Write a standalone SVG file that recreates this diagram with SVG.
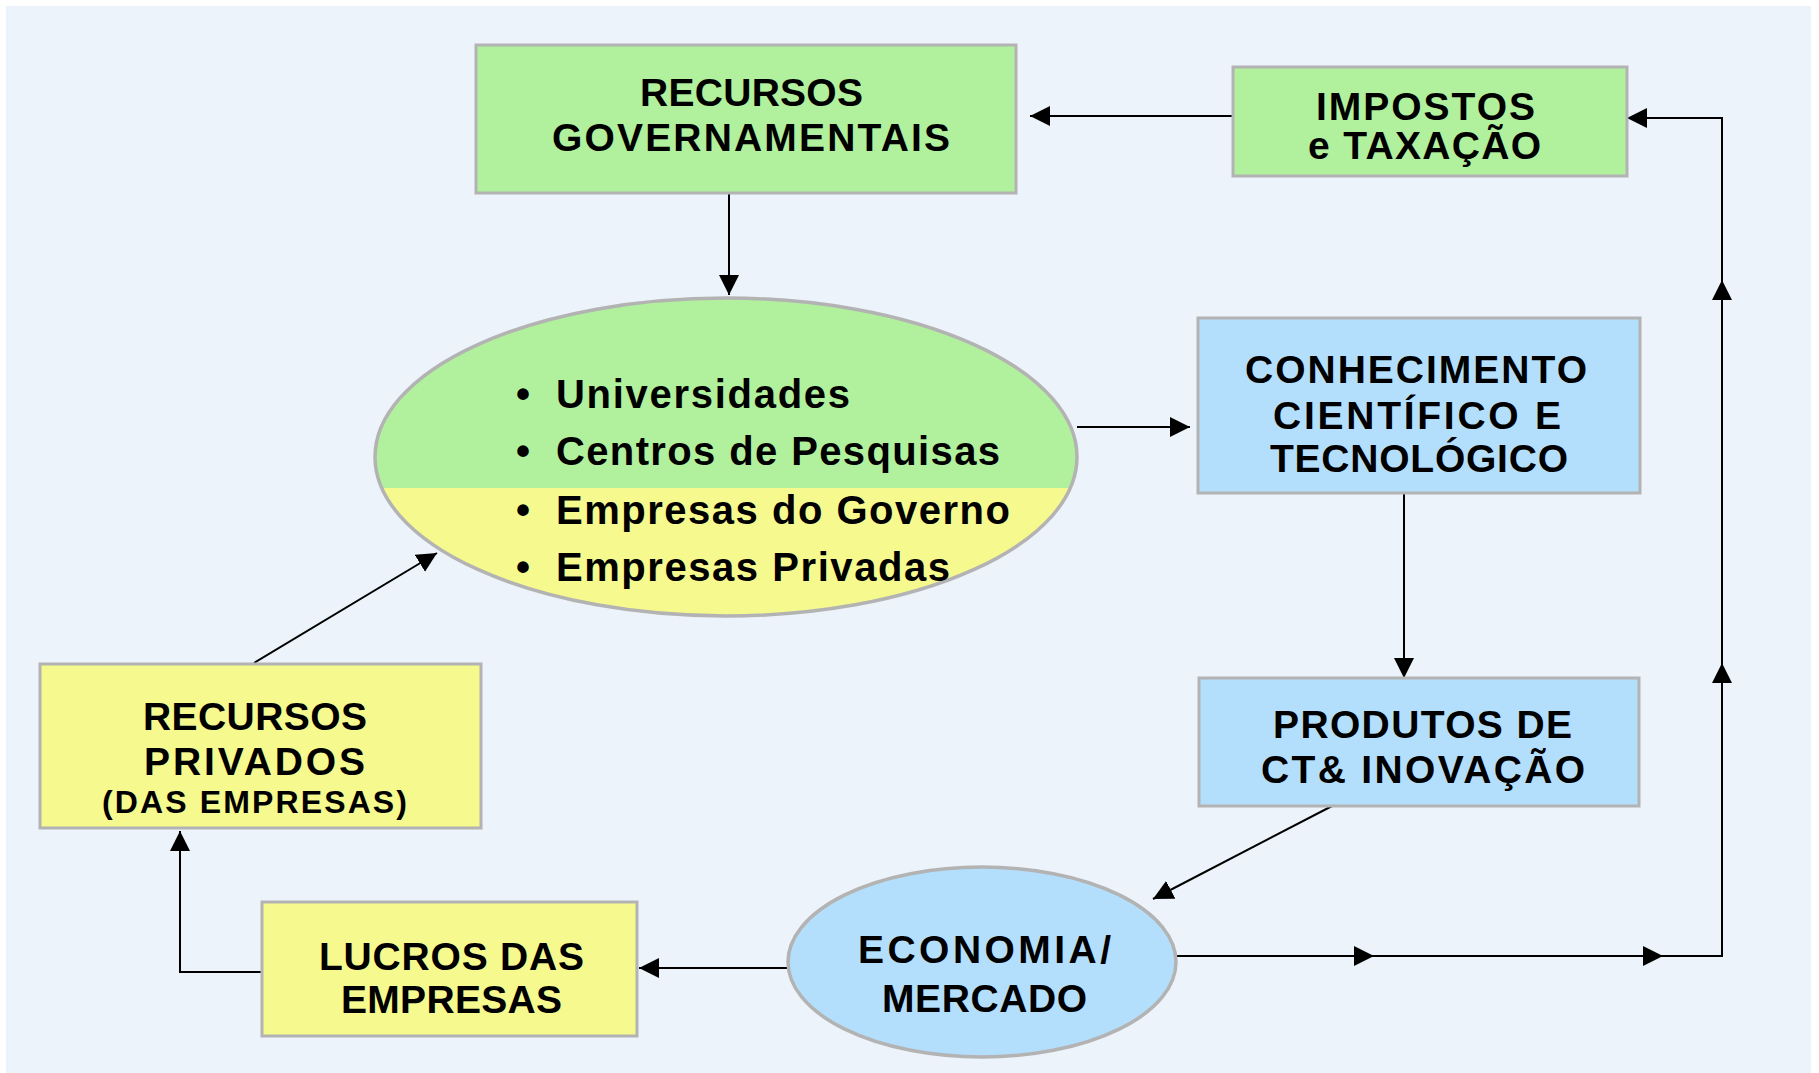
<svg xmlns="http://www.w3.org/2000/svg" width="1819" height="1073" viewBox="0 0 1819 1073">
<style>
.box{stroke:#B3B3B3;stroke-width:3}
.g{fill:#B1F09C}
.y{fill:#F5F98E}
.b{fill:#B4DFFC}
.t{font-family:"Liberation Sans",Arial,sans-serif;font-weight:bold;font-size:39px;fill:#000}
.s{font-size:32px}
.e{font-size:40px}
.c{stroke:#000;stroke-width:2;fill:none}
.a{marker-end:url(#ah)}
</style>
<defs>
<marker id="ah" markerUnits="userSpaceOnUse" markerWidth="20" markerHeight="20" refX="20" refY="10" orient="auto" viewBox="0 0 20 20">
<path d="M0,0 L20,10 L0,20 z" fill="#000"/>
</marker>
<clipPath id="low"><rect x="300" y="488" width="850" height="200"/></clipPath>
</defs>
<rect x="0" y="0" width="1819" height="1073" fill="#FFFFFF"/>
<rect x="6" y="6" width="1805" height="1067" fill="#ECF3FA"/>

<g id="connectors">
<line class="c a" x1="1233" y1="116" x2="1030" y2="116"/>
<line class="c a" x1="729" y1="193" x2="729" y2="295"/>
<line class="c a" x1="1077" y1="427" x2="1190" y2="427"/>
<line class="c a" x1="1404" y1="493" x2="1404" y2="678"/>
<line class="c a" x1="1334" y1="805" x2="1153" y2="899"/>
<line class="c a" x1="788" y1="968" x2="639" y2="968"/>
<path class="c a" d="M261,972 L180,972 L180,831"/>
<line class="c a" x1="254" y1="663" x2="437" y2="553"/>
<line class="c a" x1="1177" y1="956" x2="1374" y2="956"/>
<line class="c a" x1="1374" y1="956" x2="1663" y2="956"/>
<path class="c a" d="M1663,956 L1722,956 L1722,663"/>
<line class="c a" x1="1722" y1="663" x2="1722" y2="280"/>
<path class="c a" d="M1722,280 L1722,118 L1627,118"/>
</g>

<g id="recursos-governamentais">
<rect class="box g" x="476" y="45" width="540" height="148"/>
<text class="t" x="640" y="106" textLength="223" lengthAdjust="spacing">RECURSOS</text>
<text class="t" x="552" y="151" textLength="398" lengthAdjust="spacing">GOVERNAMENTAIS</text>
</g>

<g id="impostos">
<rect class="box g" x="1233" y="67" width="394" height="109"/>
<text class="t" x="1316" y="120" textLength="219" lengthAdjust="spacing">IMPOSTOS</text>
<text class="t" x="1308" y="159" textLength="233" lengthAdjust="spacing">e TAXAÇÃO</text>
</g>

<g id="instituicoes">
<ellipse cx="726" cy="457" rx="351" ry="159" fill="#B1F09C"/>
<ellipse cx="726" cy="457" rx="351" ry="159" fill="#F5F98E" clip-path="url(#low)"/>
<ellipse cx="726" cy="457" rx="351" ry="159" fill="none" stroke="#B3B3B3" stroke-width="3.5"/>
<text class="t e" x="516" y="408">•</text>
<text class="t e" x="556" y="408" textLength="294" lengthAdjust="spacing">Universidades</text>
<text class="t e" x="516" y="465">•</text>
<text class="t e" x="556" y="465" textLength="444" lengthAdjust="spacing">Centros de Pesquisas</text>
<text class="t e" x="516" y="524">•</text>
<text class="t e" x="556" y="524" textLength="454" lengthAdjust="spacing">Empresas do Governo</text>
<text class="t e" x="516" y="581">•</text>
<text class="t e" x="556" y="581" textLength="394" lengthAdjust="spacing">Empresas Privadas</text>
</g>

<g id="conhecimento">
<rect class="box b" x="1198" y="318" width="442" height="175"/>
<text class="t" x="1245" y="383" textLength="342" lengthAdjust="spacing">CONHECIMENTO</text>
<text class="t" x="1273" y="429" textLength="288" lengthAdjust="spacing">CIENTÍFICO E</text>
<text class="t" x="1270" y="472" textLength="298" lengthAdjust="spacing">TECNOLÓGICO</text>
</g>

<g id="produtos">
<rect class="box b" x="1199" y="678" width="440" height="128"/>
<text class="t" x="1273" y="738" textLength="299" lengthAdjust="spacing">PRODUTOS DE</text>
<text class="t" x="1261" y="783" textLength="324" lengthAdjust="spacing">CT&amp; INOVAÇÃO</text>
</g>

<g id="economia">
<ellipse cx="982" cy="962" rx="194" ry="95" fill="#B4DFFC" stroke="#B3B3B3" stroke-width="3.5"/>
<text class="t" x="858" y="963" textLength="253" lengthAdjust="spacing">ECONOMIA/</text>
<text class="t" x="882" y="1012" textLength="205" lengthAdjust="spacing">MERCADO</text>
</g>

<g id="lucros">
<rect class="box y" x="262" y="902" width="375" height="134"/>
<text class="t" x="319" y="970" textLength="265" lengthAdjust="spacing">LUCROS DAS</text>
<text class="t" x="341" y="1013" textLength="221" lengthAdjust="spacing">EMPRESAS</text>
</g>

<g id="recursos-privados">
<rect class="box y" x="40" y="664" width="441" height="164"/>
<text class="t" x="143" y="730" textLength="224" lengthAdjust="spacing">RECURSOS</text>
<text class="t" x="144" y="775" textLength="221" lengthAdjust="spacing">PRIVADOS</text>
<text class="t s" x="102" y="813" textLength="305" lengthAdjust="spacing">(DAS EMPRESAS)</text>
</g>
</svg>
